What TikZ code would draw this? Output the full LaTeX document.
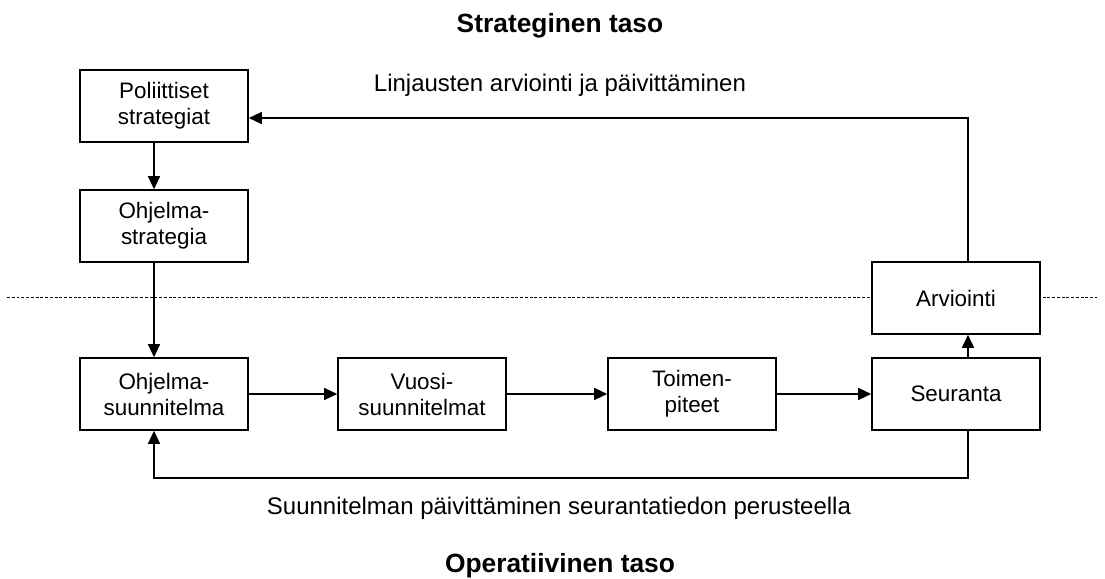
\documentclass[tikz,border=0pt]{standalone}
\usepackage{fontspec}
\setmainfont{Liberation Sans}
\usetikzlibrary{arrows.meta}

\begin{document}
\begin{tikzpicture}[>={Triangle[length=0.26cm, width=0.24cm]}, line width=0.7pt,
    box/.style={rectangle, draw, line width=0.9pt, fill=white, minimum width=3.36cm, minimum height=1.44cm, inner sep=0pt, align=center, font=\fontsize{12.75}{14.8}\selectfont},
    lbl/.style={anchor=base, inner sep=0pt, font=\fontsize{13.65}{16}\selectfont},
    ttl/.style={anchor=base, inner sep=0pt, font=\fontsize{15}{18}\selectfont\bfseries}]
    \useasboundingbox (0,0) rectangle (22.1,-11.58);

    % Level separator
    \coordinate (d0) at (0.14,-5.94);
    \coordinate (d1) at (21.94,-5.94);
    \draw[line width=0.5pt, dash pattern=on 0.06cm off 0.035cm] (d0) -- (d1);

    % Titles and labels
    \node[ttl] (tstrat) at (11.2,-0.66) {Strateginen taso};
    \node[lbl] (llinj) at (11.2,-1.84) {Linjausten arviointi ja päivittäminen};
    \node[lbl] (lsuun) at (11.18,-10.3) {Suunnitelman päivittäminen seurantatiedon perusteella};
    \node[ttl] (toper) at (11.2,-11.44) {Operatiivinen taso};

    % Define boxes
    \node[box] (pol) at (3.28,-2.12) {Poliittiset\\strategiat};
    \node[box] (ostr) at (3.28,-4.52) {Ohjelma-\\strategia};
    \node[box] (osuu) at (3.28,-7.88) {Ohjelma-\\suunnitelma};
    \node[box] (vuosi) at (8.44,-7.88) {Vuosi-\\suunnitelmat};
    \node[box] (toim) at (13.84,-7.88) {Toimen-\\piteet};
    \node[box] (seur) at (19.12,-7.88) {Seuranta};
    \node[box] (arv) at (19.12,-5.96) {Arviointi};

    % Corner points of the feedback loops
    \coordinate (tr) at (19.36,-2.36);
    \coordinate (br) at (19.36,-9.56);
    \coordinate (bl) at (3.08,-9.56);

    % Draw edges
    \draw[->] (pol.south -| bl) -- (ostr.north -| bl); % strategiat -> ohjelmastrategia
    \draw[->] (ostr.south -| bl) -- (osuu.north -| bl); % ohjelmastrategia -> suunnitelma
    \draw[->] (osuu) -- (vuosi);
    \draw[->] (vuosi) -- (toim);
    \draw[->] (toim) -- (seur);
    \draw[->] (seur.north -| tr) -- (arv.south -| tr);
    \draw[->] (arv.north -| tr) -- (tr) -- (pol.east |- tr); % back to strategies
    \draw[->] (seur.south -| br) -- (br) -- (bl) -- (osuu.south -| bl); % back to plan
\end{tikzpicture}
\end{document}
